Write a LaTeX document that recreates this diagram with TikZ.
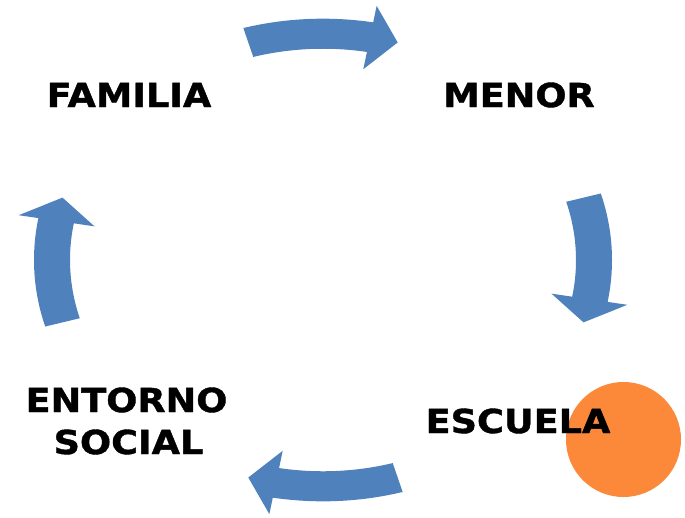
\documentclass[tikz,border=0pt]{standalone}
\usepackage{fontspec}
\newfontfamily\vb{DejaVu Sans}[FakeStretch=1.11,BoldFeatures={FakeBold=1.2}]
\definecolor{arrowblue}{RGB}{79,129,189}
\definecolor{dotorange}{RGB}{251,137,57}
\begin{document}
\begin{tikzpicture}[x=1pt,y=-1pt,
  lbl/.style={inner sep=0pt,anchor=base,font=\vb\bfseries\fontsize{33}{42}\selectfont,text=black},
  cyc/.style={fill=arrowblue,draw=none}]
\useasboundingbox (0,0) rectangle (685,517);
% cycle arrows (arcs of a flattened circle)
\begin{scope}[shift={(323,260)},yscale=0.835]
  \foreach \a in {0,90,180,270}{
    \fill[cyc] ({\a-106}:289) arc[start angle=\a-106, end angle=\a-80, radius=289]
      -- ({\a-80}:309) -- ({\a-74}:271) -- ({\a-80}:232) -- ({\a-80}:253)
      arc[start angle=\a-80, end angle=\a-106, radius=253] -- cycle;
  }
\end{scope}
% orange dot
\node[circle,fill=dotorange,minimum size=115pt,inner sep=0pt] (dot) at (623.5,439.5) {};
% labels
\node[lbl] (familia) at (129,107) {FAMILIA};
\node[lbl] (menor) at (519,107) {MENOR};
\node[lbl] (escuela) at (518,433) {ESCUELA};
\node[lbl] (entorno) at (126.5,412) {ENTORNO};
\node[lbl] (social) at (128.5,454) {SOCIAL};
\end{tikzpicture}
\end{document}
